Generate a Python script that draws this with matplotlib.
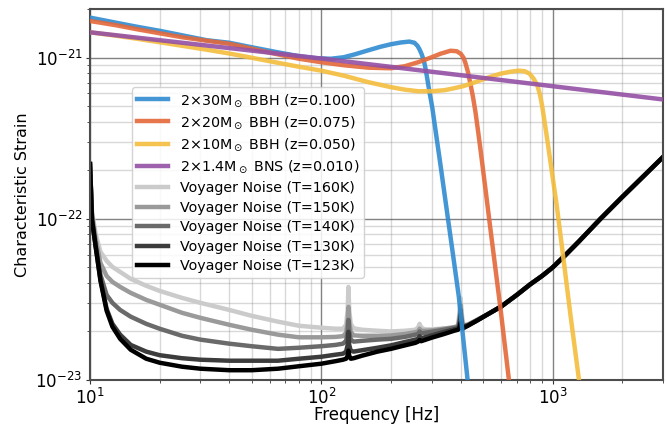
import numpy as np
import matplotlib
matplotlib.use("Agg")
import matplotlib.pyplot as plt
from matplotlib.ticker import NullFormatter

# ---------------- data ----------------
# BBH / BNS characteristic strain (units of 1e-21)
f_bbh30 = [10, 13, 16, 20, 25, 32, 40, 50, 63, 80, 95, 110, 125, 140, 160, 180, 200, 220, 240,
           252.7, 260.4, 265.6, 271, 277.3, 282, 286.9, 293.5, 301.5, 311.6, 327.5, 350.1, 369,
           393, 427.3, 464]
h_bbh30 = [1.769, 1.643, 1.551, 1.465, 1.374, 1.280, 1.235, 1.158, 1.086, 1.019, 0.990, 0.983,
           1.004, 1.048, 1.110, 1.166, 1.209, 1.239, 1.256, 1.235, 1.183, 1.126, 1.056, 0.962,
           0.858, 0.744, 0.610, 0.494, 0.355, 0.2154, 0.1082, 0.0632, 0.0329, 0.01053, 0.00345]

f_bbh20 = [10, 13, 16, 20, 25, 32, 40, 50, 63, 80, 100, 125, 160, 200, 230, 262, 300, 327.5,
           362, 385, 400.5, 412, 420, 430.7, 441.5, 452.7, 464, 476, 488, 513, 539, 596, 647, 700]
h_bbh20 = [1.685, 1.585, 1.497, 1.414, 1.336, 1.271, 1.217, 1.134, 1.056, 0.983, 0.935, 0.896,
           0.865, 0.858, 0.884, 0.935, 1.004, 1.056, 1.102, 1.094, 1.056, 0.997, 0.922, 0.811,
           0.683, 0.568, 0.458, 0.350, 0.2667, 0.1508, 0.0852, 0.02724, 0.01005, 0.00398]

f_bbh10 = [10, 13, 16, 20, 25, 32, 40, 50, 63, 80, 100, 125, 160, 200, 230, 262, 300, 340,
           375, 410, 449, 488, 539, 595.6, 658, 712.5, 756.6, 795, 827.5, 858.5, 882.7, 902.4,
           923.4, 948.6, 980.2, 1013, 1041, 1101.5, 1196.5, 1299.5, 1403]
h_bbh10 = [1.434, 1.365, 1.307, 1.244, 1.183, 1.118, 1.059, 0.997, 0.935, 0.877, 0.829, 0.772,
           0.703, 0.655, 0.632, 0.618, 0.618, 0.627, 0.645, 0.664, 0.693, 0.723, 0.760, 0.794,
           0.817, 0.829, 0.823, 0.794, 0.739, 0.674, 0.584, 0.494, 0.398, 0.3075, 0.2216,
           0.1596, 0.1217, 0.0641, 0.02476, 0.01005, 0.00427]

f_bns = [10, 100, 1000, 3000]
h_bns = [1.434, 0.986, 0.664, 0.5495]

# Voyager noise curves (units of 1e-23)
f_noise = [10, 10.2, 10.6, 11.1, 11.8, 12.5, 13.5, 15, 17.5, 20, 25, 30, 40, 50, 65, 80, 100,
           115, 124, 128, 130, 131, 132, 134, 138, 150, 175, 200, 230, 255, 262, 266, 270, 280,
           300, 340, 375, 390, 396, 400, 404, 410, 430, 470, 520, 600, 700, 800, 900, 1000,
           1138, 1300, 1600, 2000, 2500, 3000]
high_tail = [2.54, 2.86, 3.37, 3.92, 4.42, 4.99, 5.97, 7.24, 9.90, 13.65, 18.67, 24.14]
n_160 = [21.84, 11.02, 7.94, 6.23, 5.48, 5.03, 4.68, 4.24, 3.84, 3.57, 3.23, 3.01, 2.72, 2.50,
         2.30, 2.17, 2.11, 2.08, 2.08, 2.20, 2.72, 3.78, 2.72, 2.23, 2.09, 2.05, 2.02, 2.00,
         2.02, 2.05, 2.11, 2.23, 2.12, 2.06, 2.06, 2.09, 2.12, 2.20, 2.65, 3.23, 2.65, 2.20,
         2.21, 2.36] + high_tail
n_150 = [21.84, 10.56, 7.39, 5.32, 4.42, 4.06, 3.78, 3.47, 3.14, 2.93, 2.61, 2.43, 2.20, 2.05,
         1.91, 1.84, 1.84, 1.85, 1.87, 1.96, 2.30, 2.84, 2.30, 1.99, 1.89, 1.88, 1.88, 1.89,
         1.93, 1.98, 2.00, 2.08, 2.02, 2.02, 2.03, 2.08, 2.12, 2.14, 2.43, 2.93, 2.43, 2.17,
         2.20, 2.35] + high_tail
n_140 = [21.84, 10.12, 6.79, 4.49, 3.37, 3.01, 2.72, 2.47, 2.23, 2.08, 1.88, 1.78, 1.68, 1.62,
         1.56, 1.585, 1.62, 1.65, 1.68, 1.75, 1.99, 2.36, 1.99, 1.78, 1.73, 1.75, 1.78, 1.80,
         1.85, 1.91, 1.93, 2.00, 1.95, 1.96, 1.99, 2.05, 2.11, 2.12, 2.30, 2.72, 2.30, 2.15,
         2.19, 2.34] + high_tail
n_130 = [21.84, 9.83, 6.60, 4.18, 2.76, 2.23, 1.91, 1.65, 1.50, 1.425, 1.365, 1.336, 1.317, 1.317,
         1.317, 1.355, 1.394, 1.435, 1.455, 1.50, 1.65, 1.99, 1.65, 1.52, 1.50, 1.53, 1.585, 1.64,
         1.72, 1.78, 1.80, 1.87, 1.81, 1.84, 1.89, 1.99, 2.06, 2.09, 2.20, 2.54, 2.20, 2.14,
         2.18, 2.34] + high_tail
n_123 = [21.84, 9.83, 6.60, 4.12, 2.69, 2.14, 1.80, 1.54, 1.355, 1.280, 1.209, 1.175, 1.150, 1.150,
         1.175, 1.217, 1.262, 1.308, 1.336, 1.355, 1.415, 1.52, 1.415, 1.355, 1.365, 1.415, 1.50, 1.56,
         1.64, 1.70, 1.73, 1.77, 1.74, 1.77, 1.83, 1.93, 2.02, 2.05, 2.11, 2.26, 2.11, 2.09,
         2.17, 2.33] + high_tail

signal_labels = [r'2$\times$30M$_\odot$ BBH (z=0.100)',
                 r'2$\times$20M$_\odot$ BBH (z=0.075)',
                 r'2$\times$10M$_\odot$ BBH (z=0.050)',
                 r'2$\times$1.4M$_\odot$ BNS (z=0.010)']
noise_temps = [160, 150, 140, 130, 123]
x_ticks = [10, 100, 1000]
y_ticks = [1e-23, 1e-22, 1e-21]

# ---------------- style ----------------
sig_colors = ['#2f8bd0', '#e4683a', '#f4bd3d', '#9450a4']
noise_colors = ['#cbcbcb', '#9a9a9a', '#6a6a6a', '#3c3c3c', '#000000']

fig = plt.figure(figsize=(6.67, 4.29), dpi=100)
ax = fig.add_axes([90 / 667, 49 / 429, 573 / 667, 371 / 429])

sig_f = [f_bbh30, f_bbh20, f_bbh10, f_bns]
sig_h = [h_bbh30, h_bbh20, h_bbh10, h_bns]
for f, h, c, lab in zip(sig_f, sig_h, sig_colors, signal_labels):
    ax.loglog(f, np.array(h) * 1e-21, color=c, lw=3.2, alpha=0.9, label=lab, zorder=3,
              solid_joinstyle='round')

noise = [n_160, n_150, n_140, n_130, n_123]
for n, c, T in zip(noise, noise_colors, noise_temps):
    ax.loglog(f_noise, np.array(n) * 1e-23, color=c, lw=3.2, label=f'Voyager Noise (T={T}K)',
              zorder=2, solid_joinstyle='round')

ax.set_xticks(x_ticks)
ax.set_yticks(y_ticks)
ax.set_xlim(10, 3000)
ax.set_ylim(1e-23, 2e-21)
ax.xaxis.set_minor_formatter(NullFormatter())
ax.yaxis.set_minor_formatter(NullFormatter())
ax.grid(True, which='major', color='0.3', lw=1.0, alpha=0.7)
ax.grid(True, which='minor', color='0.5', lw=1.0, alpha=0.3)
for s in ax.spines.values():
    s.set_color('0.3')
    s.set_linewidth(1.5)
ax.tick_params(which='major', labelsize=12, length=3, pad=2.5, color='0.2')
ax.tick_params(which='minor', length=2, color='0.2')
ax.set_xlabel('Frequency [Hz]', fontsize=12, labelpad=-1.5)
ax.set_ylabel('Characteristic Strain', fontsize=11.5, labelpad=4)
leg = ax.legend(loc='upper left', bbox_to_anchor=(0.074, 0.79), borderaxespad=0,
                fontsize=10.3, framealpha=0.85, handlelength=2.15, labelspacing=0.39,
                borderpad=0.35, handletextpad=0.8)
fig.savefig('out.png', dpi=100)
